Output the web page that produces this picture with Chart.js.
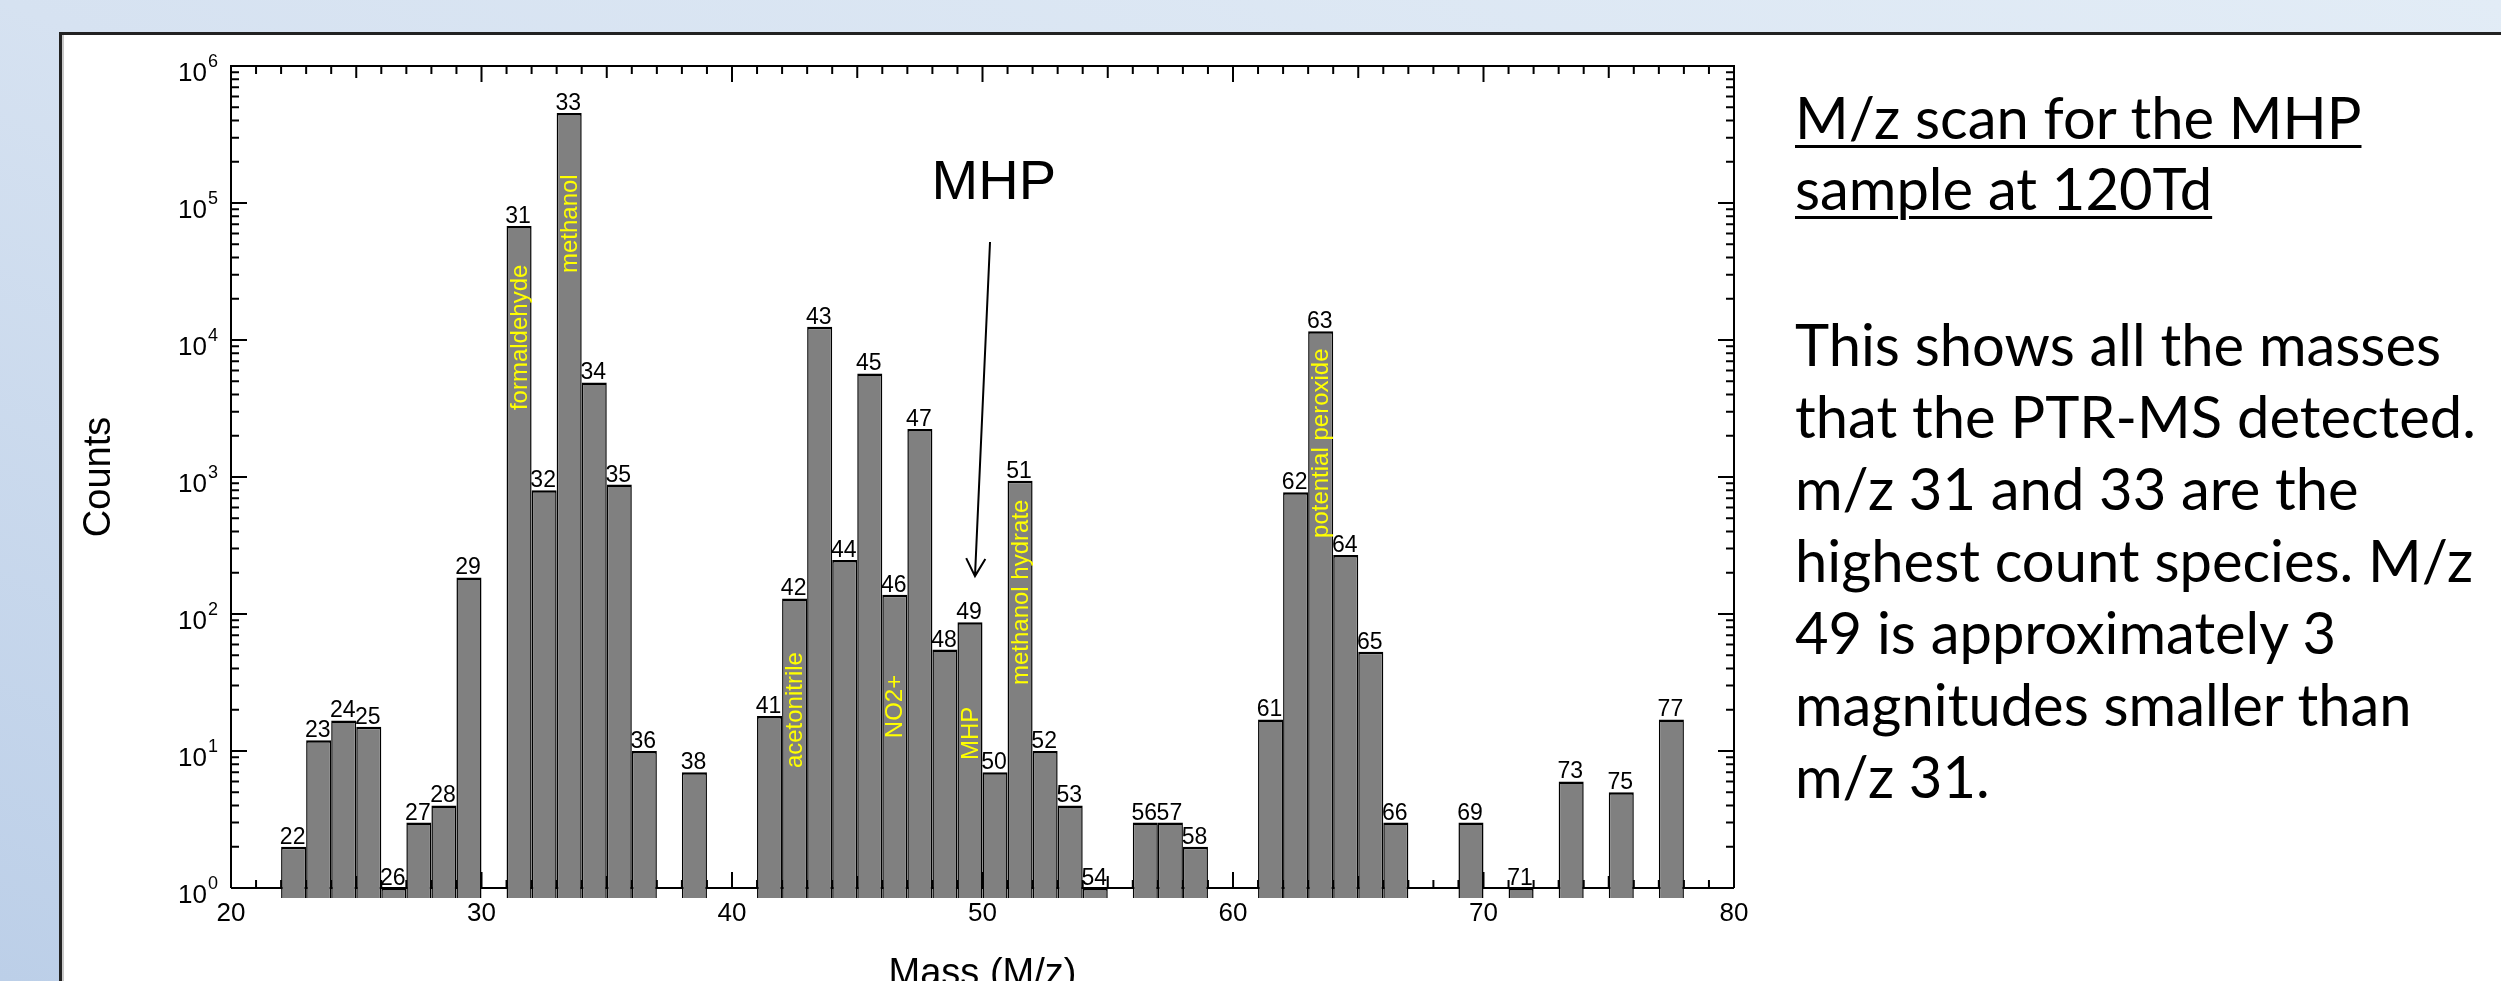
<!DOCTYPE html>
<html><head><meta charset="utf-8">
<script src="https://cdn.jsdelivr.net/npm/chart.js@4.4.1/dist/chart.umd.min.js"></script>
<style>
html,body{margin:0;padding:0;width:2501px;height:981px;overflow:hidden;}
html{background:linear-gradient(to top right,#bccfe8 0%,#d6e2f1 50%,#e2ecf6 100%);}
body{position:relative;background:transparent;font-family:'Liberation Sans',Arial,sans-serif;}
#panel{position:absolute;left:59px;top:32px;width:2460px;height:960px;background:#fff;border-top:3px solid #222;border-left:3px solid #222;box-shadow:inset 2px 0 0 #c8c8c8;}
#chart{position:absolute;left:0;top:0;}
.ln{position:absolute;left:1795px;white-space:nowrap;font-family:Lato,'Open Sans',sans-serif;color:#000;line-height:1.2;}
.u{text-decoration:underline;text-decoration-thickness:3px;text-underline-offset:6px;}
.mk{display:inline-block;width:0;height:0;}
</style></head>
<body>
<div id="panel"></div>
<canvas id="chart" width="2501" height="981"></canvas>
<div id="notes"></div>
<script>
// ---- data ----
const xMin = 20, xMax = 80;
const yMin = 0.845, yMax = 1e6;
const masses = [22,23,24,25,26,27,28,29,31,32,33,34,35,36,38,41,42,43,44,45,46,47,48,49,50,51,52,53,54,56,57,58,61,62,63,64,65,66,69,71,73,75,77];
const counts = [2,12,16.7,15,1,3,4,185,68000,800,454000,4900,880,10,7,18,130,12500,248,5700,138,2240,55,87,7,940,10,4,1,3,3,2,17,775,11600,270,53,3,3,1,6,5,17];
const yDecades = [0,1,2,3,4,5,6];
const compoundNames = ['formaldehyde','methanol','acetonitrile','NO2+','MHP','methanol hydrate','potential peroxide'];
const compoundMasses = [31,33,42,46,49,51,63];
const compoundStart = [3080,30800,7.5,12.4,8.6,30.3,359];
const calloutText = 'MHP';
const calloutAt = [50.45, 1.07e5];
const arrowFrom = [50.3, 51900];
const arrowTo = [49.7, 189];
const xTitle = 'Mass (M/z)';
const yTitle = 'Counts';
const noteTitle = ['M/z scan for the MHP', 'sample at 120Td'];
const noteBody = ['This shows all the masses', 'that the PTR-MS detected.', 'm/z 31 and 33 are the', 'highest count species. M/z', '49 is approximately 3', 'magnitudes smaller than', 'm/z 31.'];

// ---- build ----
const categories = [];
for (let m = xMin; m < xMax; m++) categories.push(m);
const barData = categories.map(m => { const i = masses.indexOf(m); return i >= 0 ? counts[i] : null; });

const FONT = "'Liberation Sans', Arial, sans-serif";

const framePlugin = {
  id: 'frame',
  beforeDatasetsDraw(chart) {
    const {ctx, chartArea: a, scales} = chart;
    const ys = scales.y, xl = scales.xl, xs = scales.x;
    const yb = ys.getPixelForValue(1);
    ctx.save();
    ctx.strokeStyle = '#000';
    ctx.lineWidth = 2;
    ctx.beginPath();
    ctx.moveTo(a.left, yb); ctx.lineTo(a.left, a.top); ctx.lineTo(a.right, a.top); ctx.lineTo(a.right, yb);
    ctx.moveTo(a.left, yb); ctx.lineTo(a.right, yb);
    ctx.stroke();
    // log ticks, inward on left and right
    ctx.beginPath();
    for (let k = 0; k < 6; k++) {
      for (let m = 1; m <= 9; m++) {
        const y = ys.getPixelForValue(m * Math.pow(10, k));
        const len = m === 1 ? 16 : 8;
        ctx.moveTo(a.left, y); ctx.lineTo(a.left + len, y);
        ctx.moveTo(a.right, y); ctx.lineTo(a.right - len, y);
      }
    }
    // x ticks on top (down) and baseline (up)
    for (let m = xMin; m <= xMax; m++) {
      const x = xl.getPixelForValue(m);
      const len = m % 10 === 0 ? 16 : (m % 5 === 0 ? 12 : 8);
      ctx.moveTo(x, a.top); ctx.lineTo(x, a.top + len);
      ctx.moveTo(x, yb); ctx.lineTo(x, yb - len);
    }
    ctx.stroke();
    // mass labels above bars (drawn behind bars)
    ctx.fillStyle = '#000';
    ctx.font = '23px ' + FONT;
    ctx.textAlign = 'center';
    ctx.textBaseline = 'alphabetic';
    masses.forEach((m, i) => {
      const x = xs.getPixelForValue(m - xMin) - 1;
      const y = ys.getPixelForValue(counts[i]) - 3;
      ctx.fillText(String(m), x, y);
    });
    ctx.restore();
  },
  afterDatasetsDraw(chart) {
    const {ctx, chartArea: a, scales} = chart;
    const ys = scales.y, xl = scales.xl, xs = scales.x;
    ctx.save();
    // compound names, vertical, yellow
    ctx.fillStyle = '#ffff00';
    ctx.font = '24px ' + FONT;
    ctx.textAlign = 'left';
    ctx.textBaseline = 'middle';
    compoundNames.forEach((t, i) => {
      const x = xs.getPixelForValue(compoundMasses[i] - xMin) + 1;
      const y = ys.getPixelForValue(compoundStart[i]);
      ctx.save(); ctx.translate(x, y); ctx.rotate(-Math.PI / 2); ctx.fillText(t, 0, 0); ctx.restore();
    });
    // callout
    ctx.fillStyle = '#000';
    ctx.font = '56px ' + FONT;
    ctx.textAlign = 'center';
    ctx.textBaseline = 'alphabetic';
    ctx.fillText(calloutText, xl.getPixelForValue(calloutAt[0]), ys.getPixelForValue(calloutAt[1]));
    const x1 = xl.getPixelForValue(arrowFrom[0]), y1 = ys.getPixelForValue(arrowFrom[1]);
    const x2 = xl.getPixelForValue(arrowTo[0]), y2 = ys.getPixelForValue(arrowTo[1]);
    ctx.strokeStyle = '#000'; ctx.lineWidth = 2;
    ctx.beginPath(); ctx.moveTo(x1, y1); ctx.lineTo(x2, y2);
    const ang = Math.atan2(y2 - y1, x2 - x1), hl = 20, ha = 0.5;
    ctx.moveTo(x2 - hl * Math.cos(ang - ha), y2 - hl * Math.sin(ang - ha)); ctx.lineTo(x2, y2);
    ctx.lineTo(x2 - hl * Math.cos(ang + ha), y2 - hl * Math.sin(ang + ha));
    ctx.stroke();
    // y tick labels 10^k
    yDecades.forEach(k => {
      const y = ys.getPixelForValue(Math.pow(10, k));
      ctx.font = '26px ' + FONT; ctx.textAlign = 'right';
      ctx.fillText('10', a.left - 24, y + 15);
      ctx.font = '18px ' + FONT; ctx.textAlign = 'left';
      ctx.fillText(String(k), a.left - 23, y + 1);
    });
    // axis titles
    ctx.font = '38px ' + FONT;
    ctx.textAlign = 'center';
    ctx.fillText(xTitle, (a.left + a.right) / 2, 985);
    ctx.save();
    ctx.translate(a.left - 131, (a.top + ys.getPixelForValue(1)) / 2);
    ctx.rotate(-Math.PI / 2);
    ctx.textBaseline = 'middle';
    ctx.fillText(yTitle, 0, 0);
    ctx.restore();
    ctx.restore();
  }
};

new Chart(document.getElementById('chart'), {
  type: 'bar',
  data: {
    labels: categories,
    datasets: [{
      data: barData,
      backgroundColor: '#808080',
      borderColor: '#000',
      borderWidth: { top: 2.5, left: 1.5, right: 1.5, bottom: 0 },
      borderSkipped: 'start',
      barPercentage: 1,
      categoryPercentage: 1,
      inflateAmount: 0
    }]
  },
  options: {
    responsive: false,
    animation: false,
    devicePixelRatio: 1,
    layout: { padding: { left: 231, top: 66, right: 767, bottom: 51.8 } },
    plugins: { legend: { display: false }, tooltip: { enabled: false }, title: { display: false } },
    scales: {
      x: { type: 'category', display: false, offset: true },
      y: { type: 'logarithmic', display: false, min: yMin, max: yMax, bounds: 'data' },
      xl: {
        type: 'linear', position: 'bottom', min: xMin, max: xMax, display: true, offset: false,
        grid: { display: false, drawTicks: false, offset: false }, border: { display: false },
        ticks: { stepSize: 10, padding: 0, color: '#000', autoSkip: false, maxRotation: 0, font: { family: FONT, size: 26 } }
      }
    }
  },
  plugins: [framePlugin]
});

// ---- side notes ----
(function () {
  const notes = document.getElementById('notes');
  const c = document.createElement('canvas').getContext('2d');
  c.font = '100px Lato';
  const fs = Math.min(62, 100 * 681 / c.measureText(noteBody[1]).width);
  const base = [139, 210, 366, 438, 510, 582, 654, 726, 798];
  const lines = noteTitle.map(t => [t, true]).concat(noteBody.map(t => [t, false]));
  lines.forEach(([t, u], i) => {
    const d = document.createElement('div');
    d.className = 'ln' + (u ? ' u' : '');
    d.style.fontSize = fs + 'px';
    d.textContent = t;
    const mk = document.createElement('span'); mk.className = 'mk';
    d.appendChild(mk);
    d.style.top = '0px';
    notes.appendChild(d);
    const off = mk.getBoundingClientRect().top - d.getBoundingClientRect().top;
    d.style.top = (base[i] - off) + 'px';
  });
})();
</script>
</body></html>
